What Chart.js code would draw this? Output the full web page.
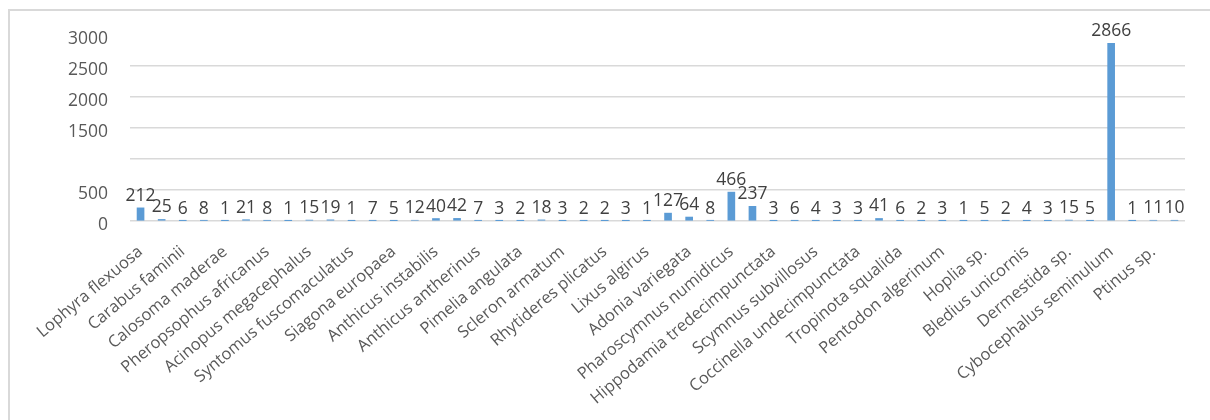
<!DOCTYPE html>
<html>
<head>
<meta charset="utf-8">
<script src="https://cdn.jsdelivr.net/npm/chart.js@4.4.1/dist/chart.umd.min.js"></script>
<style>
  html, body { margin: 0; padding: 0; background: #ffffff; }
  #frame { position: absolute; left: 8px; top: 9px; width: 1230px; height: 440px;
           border: 2px solid #d9d9d9; box-sizing: border-box; }
  #wrap { position: absolute; left: 0; top: 0; width: 1210px; height: 420px; }
</style>
</head>
<body>
<div id="frame"></div>
<div id="wrap"><canvas id="chart" width="1210" height="420"></canvas></div>
<script>
// Species named on the axis (every other category carries a name)
const namedSpecies = [
  'Lophyra flexuosa', 'Carabus faminii', 'Calosoma maderae', 'Pheropsophus africanus',
  'Acinopus megacephalus', 'Syntomus fuscomaculatus', 'Siagona europaea', 'Anthicus instabilis',
  'Anthicus antherinus', 'Pimelia angulata', 'Scleron armatum', 'Rhytideres plicatus',
  'Lixus algirus', 'Adonia variegata', 'Pharoscymnus numidicus', 'Hippodamia tredecimpunctata',
  'Scymnus subvillosus', 'Coccinella undecimpunctata', 'Tropinota squalida', 'Pentodon algerinum',
  'Hoplia sp.', 'Bledius unicornis', 'Dermestida sp.', 'Cybocephalus seminulum', 'Ptinus sp.'
];

// Individuals counted per species
const counts = [
  212, 25, 6, 8, 1, 21, 8, 1, 15, 19,
  1, 7, 5, 12, 40, 42, 7, 3, 2, 18,
  3, 2, 2, 3, 1, 127, 64, 8, 466, 237,
  3, 6, 4, 3, 3, 41, 6, 2, 3, 1,
  5, 2, 4, 3, 15, 5, 2866, 1, 11, 10
];

// Value-axis ticks
const yMin = 0;
const yMax = 3000;
const yStep = 500;
const yHiddenTickLabels = [1000];

const categories = counts.map((_, i) => (i % 2 === 0 ? namedSpecies[i / 2] : ''));

const FONT = "'Open Sans', 'Noto Sans', sans-serif";

// Writes each bar's count just above it
const valueLabels = {
  id: 'valueLabels',
  afterDatasetsDraw(chart) {
    const ctx = chart.ctx;
    const meta = chart.getDatasetMeta(0);
    const values = chart.data.datasets[0].data;
    ctx.save();
    ctx.font = '17.5px ' + FONT;
    ctx.fillStyle = '#404040';
    ctx.textAlign = 'center';
    ctx.textBaseline = 'alphabetic';
    meta.data.forEach((bar, i) => {
      ctx.fillText(String(values[i]), bar.x, bar.y - 7);
    });
    ctx.restore();
  }
};

new Chart(document.getElementById('chart'), {
  type: 'bar',
  data: {
    labels: categories,
    datasets: [{
      data: counts,
      backgroundColor: '#5b9bd5',
      borderWidth: 0,
      barThickness: 7
    }]
  },
  options: {
    responsive: false,
    animation: false,
    layout: { padding: { left: 8, top: 35, right: 25, bottom: 0 } },
    plugins: {
      legend: { display: false },
      tooltip: { enabled: false }
    },
    scales: {
      x: {
        grid: { display: false, drawTicks: false },
        border: { display: false },
        ticks: {
          autoSkip: false,
          minRotation: 40,
          maxRotation: 40,
          padding: 21,
          color: '#595959',
          font: { family: FONT, size: 16.5 }
        },
        afterFit(scale) { scale.height = 199; }
      },
      y: {
        min: yMin,
        max: yMax,
        grid: {
          color: (c) => (c.tick && c.tick.value === yMax ? 'rgba(0,0,0,0)' : '#d9d9d9'),
          lineWidth: 1.5,
          drawTicks: false
        },
        border: { display: false },
        ticks: {
          stepSize: yStep,
          padding: 22,
          labelOffset: 4,
          color: '#595959',
          font: { family: FONT, size: 17.5 },
          callback: (v) => (yHiddenTickLabels.includes(v) ? '' : String(v))
        },
        afterFit(scale) { scale.width = 122; }
      }
    }
  },
  plugins: [valueLabels]
});
</script>
</body>
</html>
